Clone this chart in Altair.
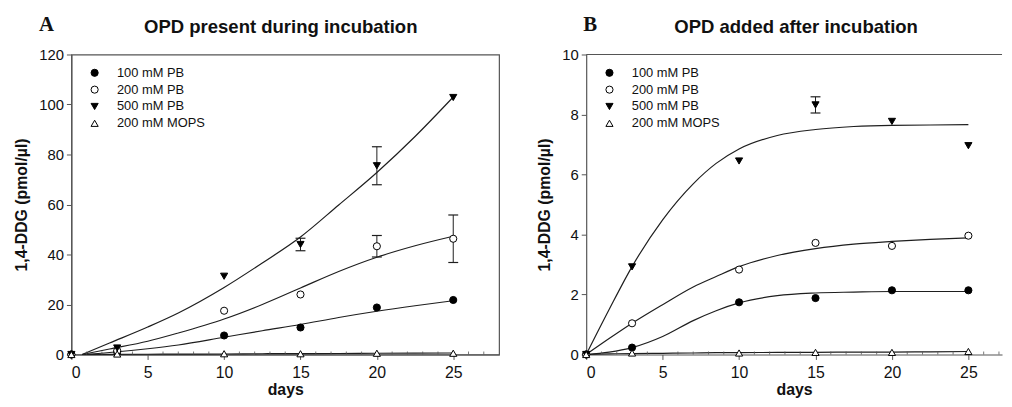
import altair as alt
import pandas as pd

# ---------------- data ----------------
series = ["100 mM PB", "200 mM PB", "500 mM PB", "200 mM MOPS"]
days = [0, 3, 10, 15, 20, 25]

# Panel A: OPD present during incubation
a_100 = [0, 1.0, 7.6, 10.8, 18.8, 21.8]
a_200 = [0, 1.5, 17.5, 24.0, 43.3, 46.3]
a_500 = [0, 2.6, 31.3, 44.0, 75.5, 102.8]
a_mops = [0, 0.2, 0.3, 0.3, 0.5, 0.5]
a_err_100 = [0, 0.3, 0.4, 0.4, 0.5, 0.5]
a_err_200 = [0, 0.4, 0.8, 0.8, 4.3, 9.5]
a_err_500 = [0, 1.2, 1.0, 2.5, 7.6, 0.8]
a_err_mops = [0, 0, 0, 0, 0, 0]

# fitted curves
a_fit_days = [0.7, 2.5, 5, 7, 10, 12.5, 15, 17.5, 20, 22.5, 25]
a_fit_100 = [0, 0.8, 2.3, 3.8, 6.9, 9.5, 12.0, 14.8, 17.3, 19.5, 21.5]
a_fit_200 = [0, 2.2, 5.3, 8.6, 14.2, 20.0, 26.6, 33.2, 38.9, 43.5, 47.3]
a_fit_500 = [0, 4.6, 11.0, 16.6, 26.8, 36.6, 47.0, 59.8, 72.8, 87.2, 103.0]
a_fit_mops = [0, 0.05, 0.1, 0.15, 0.2, 0.3, 0.35, 0.4, 0.5, 0.55, 0.6]

# Panel B: OPD added after incubation
b_100 = [0, 0.23, 1.74, 1.88, 2.14, 2.14]
b_200 = [0, 1.04, 2.83, 3.72, 3.62, 3.96]
b_500 = [0, 2.92, 6.45, 8.32, 7.77, 6.96]
b_mops = [0, 0.05, 0.05, 0.07, 0.07, 0.1]
b_err_100 = [0, 0.04, 0.03, 0.03, 0.03, 0.03]
b_err_200 = [0, 0.03, 0.05, 0.04, 0.1, 0.1]
b_err_500 = [0, 0.07, 0.12, 0.27, 0.06, 0.07]
b_err_mops = [0, 0, 0, 0, 0, 0]

b_fit_days = [0, 1.5, 3, 5, 7, 8.5, 10, 12.5, 15, 17.5, 20, 22.5, 25]
b_fit_100 = [0, 0.08, 0.23, 0.6, 1.13, 1.46, 1.72, 1.96, 2.05, 2.08, 2.1, 2.1, 2.1]
b_fit_200 = [0, 0.53, 1.04, 1.66, 2.25, 2.6, 2.93, 3.3, 3.53, 3.68, 3.77, 3.84, 3.89]
b_fit_500 = [0, 1.5, 2.93, 4.49, 5.69, 6.37, 6.85, 7.3, 7.5, 7.6, 7.64, 7.65, 7.66]
b_fit_mops = [0, 0.02, 0.03, 0.04, 0.05, 0.06, 0.06, 0.07, 0.07, 0.08, 0.08, 0.09, 0.1]

minor_days = [d for d in range(1, 28) if d % 5 != 0]

x_ticks = [0, 5, 10, 15, 20, 25]
a_y_ticks = [0, 20, 40, 60, 80, 100, 120]
b_y_ticks = [0, 2, 4, 6, 8, 10]

# ---------------- helpers ----------------
def points_df(vals, errs):
    rows = []
    for s, v, e in zip(series, vals, errs):
        for d, yv, ev in zip(days, v, e):
            rows.append({"day": d, "val": yv, "lo": yv - ev, "hi": yv + ev, "series": s, "err": ev})
    return pd.DataFrame(rows)


def fit_df(fdays, fits):
    rows = []
    for s, f in zip(series, fits):
        for d, yv in zip(fdays, f):
            rows.append({"day": d, "val": yv, "series": s})
    return pd.DataFrame(rows)


INK = "#1e1e1e"
FRAME = "#555555"
SANS = "Liberation Sans, Arial, Helvetica, sans-serif"
NARROW = "Liberation Sans Narrow, Liberation Sans, Arial, sans-serif"
H = 303


def legend():
    return alt.Legend(title=None, orient="none", legendX=17, legendY=12, padding=0,
                      labelFont=SANS, labelFontSize=13, labelColor="#111",
                      symbolSize=52, symbolStrokeWidth=1,
                      rowPadding=3, labelOffset=16)


def panel(letter, title, pts, fits, ymax, yticks, xmax, width, letter_dx, title_dx, right_border):
    xscale = alt.Scale(domain=[0, xmax], nice=False, zero=False)
    yscale = alt.Scale(domain=[0, ymax], nice=False)
    xaxis = alt.Axis(values=x_ticks, title="days", grid=False, tickSize=5,
                     labelFont=NARROW, labelFontSize=16, labelPadding=5,
                     titleFont=SANS, titleFontWeight="bold", titleFontSize=16, titlePadding=1,
                     domainColor=FRAME, tickColor=FRAME, domainWidth=1.2,
                     labelColor="#111", titleColor="#111")
    yaxis = alt.Axis(values=yticks, title="1,4-DDG (pmol/\u00b5l)", grid=False, tickSize=5,
                     labelFont=SANS, labelFontSize=15, labelPadding=3,
                     titleFont=SANS, titleFontWeight="bold", titleFontSize=16, titlePadding=9,
                     domainColor=FRAME, tickColor=FRAME, domainWidth=1.2,
                     labelColor="#111", titleColor="#111")
    x = alt.X("day:Q", scale=xscale, axis=xaxis)
    y = alt.Y("val:Q", scale=yscale, axis=yaxis)

    base_pts = alt.Chart(pts)
    curves = alt.Chart(fits).mark_line(color=INK, strokeWidth=1.2, interpolate="monotone").encode(
        x=x, y=y, detail="series:N")
    err = base_pts.transform_filter("datum.err > 0.2 * %f / 10" % ymax)
    rules = err.mark_rule(color=INK, strokeWidth=1).encode(
        x="day:Q", y="lo:Q", y2="hi:Q")
    cap_lo = err.mark_point(shape="M -1 0 L 1 0", size=100, color=INK, strokeWidth=1.2, opacity=1).encode(
        x="day:Q", y="lo:Q")
    cap_hi = err.mark_point(shape="M -1 0 L 1 0", size=100, color=INK, strokeWidth=1.2, opacity=1).encode(
        x="day:Q", y="hi:Q")
    marks = base_pts.mark_point(filled=True, size=52, strokeWidth=1, opacity=1).encode(
        x="day:Q", y="val:Q",
        shape=alt.Shape("series:N", scale=alt.Scale(domain=series,
                                                    range=["circle", "circle", "triangle-down", "triangle-up"]),
                        legend=legend()),
        fill=alt.Fill("series:N", scale=alt.Scale(domain=series,
                                                  range=["black", "white", "black", "white"]),
                      legend=legend()),
        stroke=alt.Stroke("series:N", scale=alt.Scale(domain=series,
                                                      range=["black", "black", "black", "black"]),
                          legend=legend()),
    )
    minor = alt.Chart(pd.DataFrame({"day": minor_days})).mark_point(
        shape="M 0 -1 L 0 1", size=9, color=FRAME, strokeWidth=0.8, opacity=1).encode(
        x="day:Q", y=alt.value(H - 1.5))
    let = alt.Chart(pd.DataFrame({"t": [letter]})).mark_text(
        font="Liberation Serif, DejaVu Serif, serif", fontWeight="bold", fontSize=21,
        color="#111", align="center", baseline="alphabetic").encode(
        text="t:N", x=alt.value(letter_dx), y=alt.value(-23.5))
    ttl = alt.Chart(pd.DataFrame({"t": [title]})).mark_text(
        font=SANS, fontWeight="bold", fontSize=18.7,
        color="#111", align="center", baseline="alphabetic").encode(
        text="t:N", x=alt.value(width / 2 + title_dx), y=alt.value(-22))
    layers = [curves, rules, cap_lo, cap_hi, minor, marks, let, ttl]
    if not right_border:
        top = alt.Chart(pd.DataFrame({"t": [0]})).mark_rule(color=FRAME, strokeWidth=1.2).encode(
            x=alt.value(0), x2=alt.value(width), y=alt.value(0))
        layers.append(top)
    ch = alt.layer(*layers).properties(
        width=width, height=H,
        view=alt.ViewBackground(stroke=FRAME if right_border else "transparent", strokeWidth=1.2),
    )
    return ch


pa = panel("A", "OPD present during incubation", points_df([a_100, a_200, a_500, a_mops],
                                                          [a_err_100, a_err_200, a_err_500, a_err_mops]),
           fit_df(a_fit_days, [a_fit_100, a_fit_200, a_fit_500, a_fit_mops]),
           120, a_y_ticks, 28, 432, -25, -4.5, True)
pb = panel("B", "OPD added after incubation", points_df([b_100, b_200, b_500, b_mops],
                                                       [b_err_100, b_err_200, b_err_500, b_err_mops]),
           fit_df(b_fit_days, [b_fit_100, b_fit_200, b_fit_500, b_fit_mops]),
           10, b_y_ticks, 27.2, 420, 4, 2, False)

chart = alt.hconcat(pa, pb, spacing=36).resolve_scale(
    shape="independent", fill="independent", stroke="independent").resolve_legend(
    shape="independent", fill="independent", stroke="independent").properties(
    padding={"left": 5, "top": 3, "right": 0, "bottom": 0}).configure(background="white")

chart.save("out.html", embed_options={"renderer": "svg", "actions": False})
